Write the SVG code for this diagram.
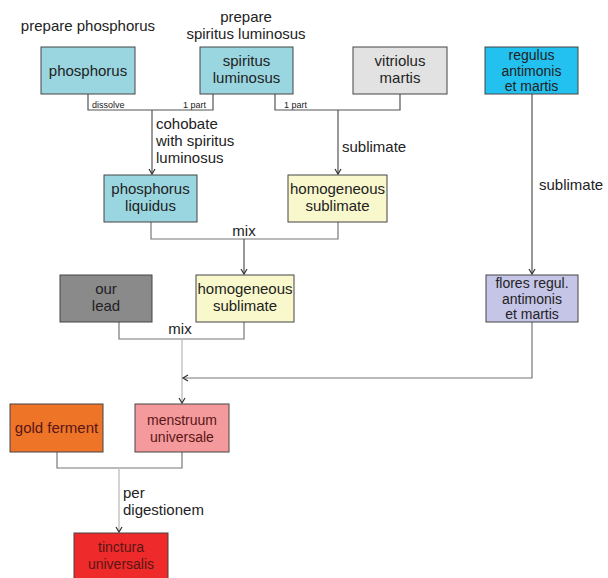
<svg xmlns="http://www.w3.org/2000/svg" width="608" height="578" viewBox="0 0 608 578">
<style>
text{font-family:"Liberation Sans",Arial,sans-serif;fill:#222}
.t{font-size:15px;text-anchor:middle}
.s{font-size:14px;text-anchor:middle}
.l{font-size:15px}
.sm{font-size:9px}
.box{stroke:#444;stroke-width:1}
.c{fill:none;stroke:#555;stroke-width:1.2}
.g{fill:none;stroke:#c4c4c4;stroke-width:1.5}
.m{fill:none;stroke:#777;stroke-width:1.2}
.r{fill:#5a1616}
</style>
<defs>
<marker id="a" markerWidth="10" markerHeight="10" refX="8" refY="5" orient="auto" markerUnits="userSpaceOnUse">
<path d="M3,2 L8,5 L3,8" fill="none" stroke="#333" stroke-width="1.2"/>
</marker>
</defs>
<text class="l" x="88" y="31" text-anchor="middle">prepare phosphorus</text>
<text class="l" x="246" y="22" text-anchor="middle">prepare</text>
<text class="l" x="246" y="39" text-anchor="middle">spiritus luminosus</text>
<g id="connectors">
<path class="c" d="M88,94 V110 H213 V94"/>
<path class="c" d="M152,110 V174" marker-end="url(#a)"/>
<path class="c" d="M275,94 V110 H400 V94"/>
<path class="c" d="M338,110 V174" marker-end="url(#a)"/>
<path class="m" d="M151,222 V239 H338 V222"/>
<path class="c" d="M244,239 V274" marker-end="url(#a)"/>
<path class="m" d="M119,322 V339 H244 V322"/>
<path class="g" d="M182,339 V403" marker-end="url(#a)"/>
<path class="c" d="M532,94 V274" marker-end="url(#a)"/>
<path class="m" d="M532,322 V378 H183" marker-end="url(#a)"/>
<path class="m" d="M57,452 V468 H182 V452"/>
<path class="g" d="M119,468 V532" marker-end="url(#a)"/>
<text class="sm" x="92" y="108">dissolve</text>
<text class="sm" x="206" y="108" text-anchor="end">1 part</text>
<text class="sm" x="284" y="108">1 part</text>
<text class="l" x="156" y="129">cohobate</text>
<text class="l" x="156" y="146">with spiritus</text>
<text class="l" x="156" y="163">luminosus</text>
<text class="l" x="342" y="152">sublimate</text>
<text class="l" x="244" y="236" text-anchor="middle">mix</text>
<text class="l" x="180" y="334" text-anchor="middle">mix</text>
<text class="l" x="539" y="190">sublimate</text>
<text class="l" x="123" y="498">per</text>
<text class="l" x="123" y="515">digestionem</text>
</g>
<g id="phosphorus"><rect class="box" x="41" y="47" width="94" height="47" fill="#99d6e0"/><text class="t" x="88" y="76">phosphorus</text></g>
<g id="spiritus"><rect class="box" x="200" y="47" width="93" height="47" fill="#99d6e0"/><text class="t" x="246.5" y="66">spiritus</text><text class="t" x="246.5" y="83">luminosus</text></g>
<g id="vitriolus"><rect class="box" x="353" y="47" width="94" height="47" fill="#e2e2e2"/><text class="t" x="400" y="66">vitriolus</text><text class="t" x="400" y="83">martis</text></g>
<g id="regulus"><rect class="box" x="485" y="47" width="93" height="47" fill="#22c1ef"/><text class="s" x="531.5" y="60">regulus</text><text class="s" x="531.5" y="76">antimonis</text><text class="s" x="531.5" y="91">et martis</text></g>
<g id="phosphorus-liquidus"><rect class="box" x="104" y="175" width="93" height="47" fill="#99d6e0"/><text class="t" x="150.5" y="194">phosphorus</text><text class="t" x="150.5" y="211">liquidus</text></g>
<g id="homogeneous-1"><rect class="box" x="288" y="175" width="99" height="47" fill="#f8f8cc"/><text class="t" x="337.5" y="194">homogeneous</text><text class="t" x="337.5" y="211">sublimate</text></g>
<g id="our-lead"><rect class="box" x="60" y="275" width="92" height="47" fill="#8a8a8a"/><text class="t" x="106" y="294">our</text><text class="t" x="106" y="311">lead</text></g>
<g id="homogeneous-2"><rect class="box" x="196" y="275" width="98" height="47" fill="#f8f8cc"/><text class="t" x="245" y="294">homogeneous</text><text class="t" x="245" y="311">sublimate</text></g>
<g id="flores"><rect class="box" x="486" y="275" width="92" height="47" fill="#c5c5e8"/><text class="s" x="532" y="288">flores regul.</text><text class="s" x="532" y="304">antimonis</text><text class="s" x="532" y="319">et martis</text></g>
<g id="gold-ferment"><rect class="box" x="10" y="404" width="93" height="48" fill="#ee7428"/><text class="t r" x="56.5" y="433">gold ferment</text></g>
<g id="menstruum"><rect class="box" x="135" y="404" width="94" height="48" fill="#f49a9c"/><text class="s r" x="182" y="425">menstruum</text><text class="s r" x="182" y="442">universale</text></g>
<g id="tinctura"><rect class="box" x="74" y="533" width="94" height="50" fill="#ee2a2a"/><text class="s r" x="121" y="552">tinctura</text><text class="s r" x="121" y="569">universalis</text></g>
</svg>
